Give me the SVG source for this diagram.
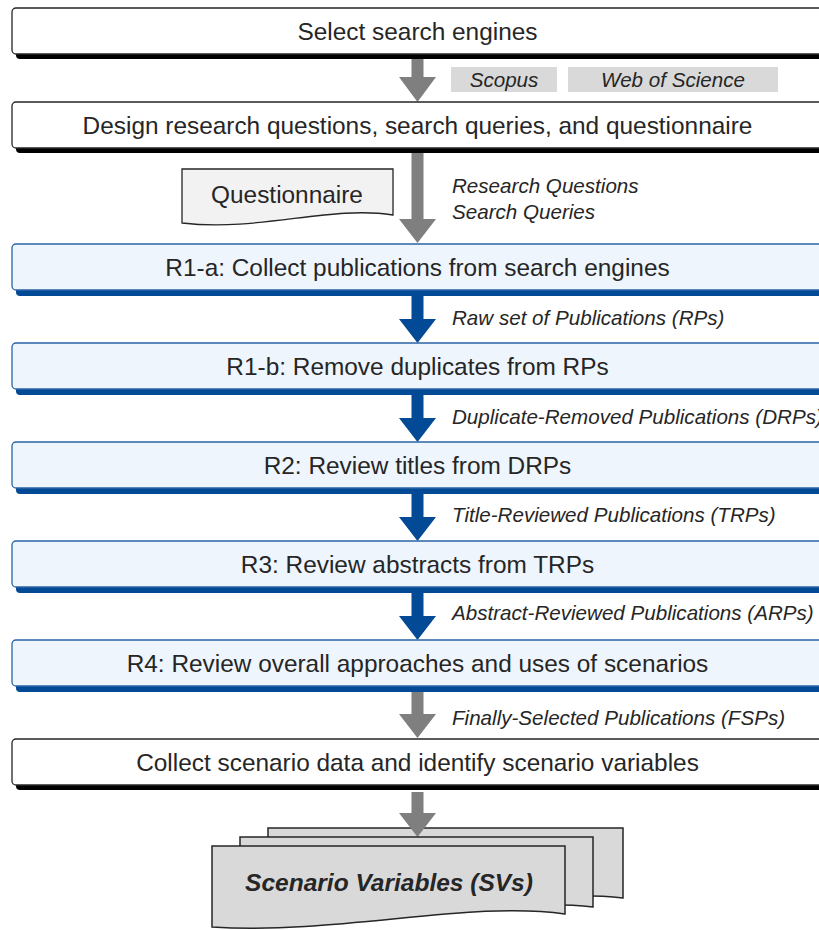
<svg xmlns="http://www.w3.org/2000/svg" width="819" height="930" viewBox="0 0 819 930">
<style>
.t{font-family:"Liberation Sans",Arial,sans-serif;font-size:24.4px;fill:#262626;text-anchor:middle}
.l{font-family:"Liberation Sans",Arial,sans-serif;font-size:20.6px;font-style:italic;fill:#262626}
.wb{fill:#ffffff;stroke:#262626;stroke-width:1.3}
.ws{fill:#000000}
.bb{fill:#eef5fd;stroke:#2b64a6;stroke-width:1.3}
.bs{fill:#024a96}
.ga{fill:#7f7f7f}
.ba{fill:#024a96}
.doc{fill:#d9d9d9;stroke:#262626;stroke-width:1.5}
.tag{fill:#d9d9d9}
</style>
<g id="connectors">
<path class="ga" d="M411.5,56 H423.5 V77 H436 L417.5,102 L399,77 H411.5 Z"/>
<path class="ga" d="M411.5,150 H423.5 V219 H436 L417.5,243 L399,219 H411.5 Z"/>
<path class="ba" d="M411.5,292 H423.5 V319 H436 L417.5,343 L399,319 H411.5 Z"/>
<path class="ba" d="M411.5,391 H423.5 V418 H436 L417.5,442 L399,418 H411.5 Z"/>
<path class="ba" d="M411.5,490 H423.5 V517 H436 L417.5,541 L399,517 H411.5 Z"/>
<path class="ba" d="M411.5,589 H423.5 V616 H436 L417.5,640 L399,616 H411.5 Z"/>
<path class="ga" d="M411.5,688 H423.5 V714 H436 L417.5,738 L399,714 H411.5 Z"/>
</g>
<g id="n1"><rect class="ws" x="16" y="13" width="820" height="46" rx="4"/><rect class="wb" x="12" y="8" width="820" height="46" rx="4"/><text class="t" x="417.5" y="39.5">Select search engines</text></g>
<g id="tags">
<rect class="tag" x="451" y="67" width="106" height="25"/><text class="l" x="504" y="87" text-anchor="middle">Scopus</text>
<rect class="tag" x="568" y="67" width="210" height="25"/><text class="l" x="673" y="87" text-anchor="middle">Web of Science</text>
</g>
<g id="n2"><rect class="ws" x="16" y="107" width="820" height="46" rx="4"/><rect class="wb" x="12" y="102" width="820" height="46" rx="4"/><text class="t" x="417.5" y="133.5">Design research questions, search queries, and questionnaire</text></g>
<g id="questionnaire"><path d="M182,169 H393 V215 C330,205 260,232 182,223 Z" fill="#f2f2f2" stroke="#262626" stroke-width="1.3"/><text class="t" x="287" y="202.5" font-size="25px">Questionnaire</text></g>
<g id="lbl-rq"><text class="l" x="452" y="193">Research Questions</text><text class="l" x="452" y="219">Search Queries</text></g>
<g id="r1a"><rect class="bs" x="16" y="250" width="820" height="46" rx="4"/><rect class="bb" x="12" y="244" width="820" height="46" rx="4"/><text class="t" x="417.5" y="275.5">R1-a: Collect publications from search engines</text></g>
<text class="l" x="452" y="325">Raw set of Publications (RPs)</text>
<g id="r1b"><rect class="bs" x="16" y="349" width="820" height="46" rx="4"/><rect class="bb" x="12" y="343" width="820" height="46" rx="4"/><text class="t" x="417.5" y="374.5">R1-b: Remove duplicates from RPs</text></g>
<text class="l" x="452" y="424">Duplicate-Removed Publications (DRPs)</text>
<g id="r2"><rect class="bs" x="16" y="448" width="820" height="46" rx="4"/><rect class="bb" x="12" y="442" width="820" height="46" rx="4"/><text class="t" x="417.5" y="473.5">R2: Review titles from DRPs</text></g>
<text class="l" x="452" y="522">Title-Reviewed Publications (TRPs)</text>
<g id="r3"><rect class="bs" x="16" y="547" width="820" height="46" rx="4"/><rect class="bb" x="12" y="541" width="820" height="46" rx="4"/><text class="t" x="417.5" y="572.5">R3: Review abstracts from TRPs</text></g>
<text class="l" x="452" y="620">Abstract-Reviewed Publications (ARPs)</text>
<g id="r4"><rect class="bs" x="16" y="646" width="820" height="46" rx="4"/><rect class="bb" x="12" y="640" width="820" height="46" rx="4"/><text class="t" x="417.5" y="671.5">R4: Review overall approaches and uses of scenarios</text></g>
<text class="l" x="452" y="725">Finally-Selected Publications (FSPs)</text>
<g id="n-final"><rect class="ws" x="16" y="744" width="820" height="46" rx="4"/><rect class="wb" x="12" y="739" width="820" height="46" rx="4"/><text class="t" x="417.5" y="770.5">Collect scenario data and identify scenario variables</text></g>
<g id="svs">
<path class="doc" d="M268,828 H623 V898 C540,888 400,915 268,908 Z"/>
<path class="ga" d="M411.5,792 H423.5 V813 H436 L417.5,837 L399,813 H411.5 Z"/>
<path class="doc" d="M240,837 H593 V907 C510,897 370,924 240,917 Z"/>
<path class="doc" d="M212,846 H565 V914 C470,900 340,935 212,927 Z"/>
<text x="389" y="891" font-family="Liberation Sans, Arial, sans-serif" font-size="24.5" font-weight="bold" font-style="italic" fill="#262626" text-anchor="middle">Scenario Variables (SVs)</text>
</g>
</svg>
